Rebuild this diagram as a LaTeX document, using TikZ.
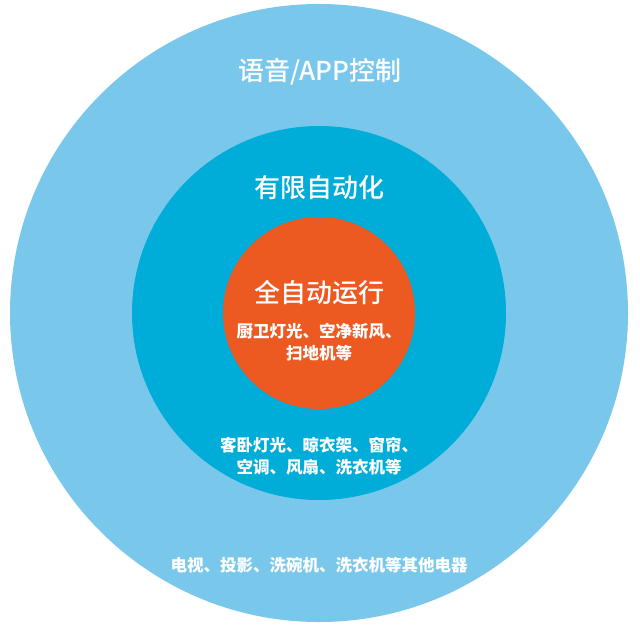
\documentclass[tikz,border=0pt]{standalone}
\usepackage{fontspec}
\newfontfamily\cjk{Noto Sans CJK SC}
\newfontfamily\cjkmid{Noto Sans CJK SC Medium}
\definecolor{outerblue}{RGB}{122,199,236}
\definecolor{middleblue}{RGB}{0,172,216}
\definecolor{coreorange}{RGB}{236,90,34}

\begin{document}
\begin{tikzpicture}[x=1pt,y=-1pt,
  title/.style={text=white, font=\cjkmid\fontsize{26}{26}\selectfont},
  items/.style={text=white, align=center, font=\cjk\bfseries\fontsize{16.5}{22}\selectfont}]

\useasboundingbox (0,0) rectangle (640,627);

% three rings, outside in
\fill[outerblue]  (319,313) circle (309pt);
\fill[middleblue] (319,313) circle (187pt);
\fill[coreorange] (319,313) circle (96pt);

% outer ring
\node[title] (voice) at (320,72) {语音/APP控制};
\node[items] (appliances) at (319,565) {电视、投影、洗碗机、洗衣机等其他电器};

% middle ring
\node[title] (limited) at (319,188) {有限自动化};
\node[items] (bedroom) at (319,456) {客卧灯光、晾衣架、窗帘、\\空调、风扇、洗衣机等};

% core
\node[title] (fullauto) at (319,293) {全自动运行};
\node[items] (kitchen) at (319,342) {厨卫灯光、空净新风、\\扫地机等};

\end{tikzpicture}
\end{document}
